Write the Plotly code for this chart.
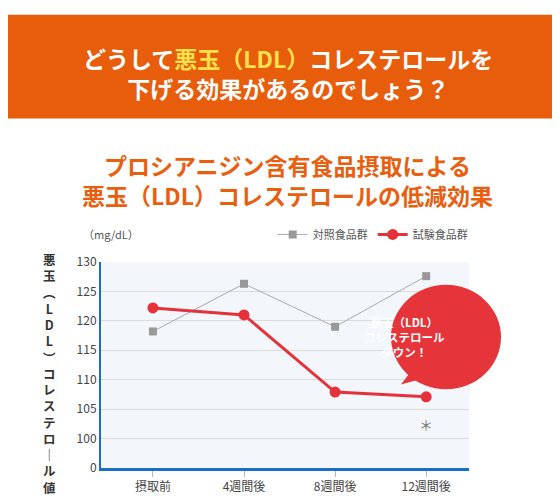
import plotly.graph_objects as go

categories = ["摂取前", "4週間後", "8週間後", "12週間後"]
control = [118.2, 126.3, 119.0, 127.6]
test = [122.2, 121.0, 107.9, 107.1]
tick_vals = [95, 100, 105, 110, 115, 120, 125, 130]
tick_text = ["0", "100", "105", "110", "115", "120", "125", "130"]

F = "Noto Sans CJK JP"
fig = go.Figure()
fig.add_trace(go.Scatter(x=[0,1,2,3], y=control, name="対照食品群", mode="lines+markers",
    line=dict(color="#aaaaaa", width=1), marker=dict(symbol="square", size=8, color="#999999")))
fig.add_trace(go.Scatter(x=[0,1,2,3], y=test, name="試験食品群", mode="lines+markers",
    line=dict(color="#e5323a", width=3), marker=dict(symbol="circle", size=11, color="#e5323a")))

fig.update_layout(
    width=560, height=498, margin=dict(l=93, r=99, t=254, b=27),
    paper_bgcolor="white", plot_bgcolor="#f3f7fc", font=dict(family=F, color="#444"),
    showlegend=True,
    legend=dict(orientation="h", x=1.01, xanchor="right", y=1.134, yanchor="middle",
                font=dict(size=11, color="#555"), bgcolor="rgba(0,0,0,0)"),
    xaxis=dict(tickvals=[0,1,2,3], ticktext=categories, range=[-0.57, 3.47],
               showgrid=False, zeroline=False, showline=True, linecolor="#1a6fc4", linewidth=3,
               ticks="outside", tickcolor="#9bbbe0", ticklen=6, tickfont=dict(size=12, color="#444")),
    yaxis=dict(range=[95, 130], tickvals=tick_vals, ticktext=tick_text, showgrid=True,
               gridcolor="#dcdcdc", showline=True, linecolor="#1a6fc4", linewidth=2,
               tickfont=dict(size=12, color="#444"), ticks="", zeroline=False),
    shapes=[
        dict(type="rect", xref="paper", yref="paper", x0=-0.26, x1=1.28, y0=1.696, y1=2.2,
             fillcolor="#e85d0b", line=dict(width=0), layer="below"),
        dict(type="path", xref="paper", yref="paper",
             path="M 0.815 0.405 L 0.861 0.512 L 0.889 0.442 Z", fillcolor="#e5353a", line=dict(width=0)),
        dict(type="circle", xref="paper", yref="paper", x0=0.788, x1=1.087, y0=0.382, y1=0.889,
             fillcolor="#e5353a", line=dict(width=0)),
    ],
    annotations=[
        dict(text="どうして<span style='color:#ffe14d'>悪玉（LDL）</span>コレステロールを<br>下げる効果があるのでしょう？",
             xref="paper", yref="paper", x=0.508, y=1.917, yanchor="middle", showarrow=False,
             font=dict(size=23, color="white", family=F, weight="bold")),
        dict(text="プロシアニジン含有食品摂取による<br>悪玉（LDL）コレステロールの低減効果",
             xref="paper", yref="paper", x=0.508, y=1.40, yanchor="middle", showarrow=False,
             font=dict(size=23, color="#e8600f", family=F, weight="bold")),
        dict(text="（mg/dL）", xref="paper", yref="paper", x=-0.054, y=1.134, yanchor="middle",
             showarrow=False, font=dict(size=11, color="#555")),
        dict(text="<br>".join(["悪","玉","︵","L","D","L","︶","コ","レ","ス","テ","ロ","｜","ル","値"]),
             xref="paper", yref="paper", x=-0.163, y=0.46, yanchor="middle", showarrow=False,
             font=dict(size=12.5, color="#333", weight="bold"), align="center"),
        dict(text="悪玉（LDL）<br>コレステロール<br>ダウン！", xref="paper", yref="paper",
             x=0.939, y=0.636, yanchor="middle", showarrow=False, align="center",
             font=dict(size=11.5, color="white", weight="bold")),
        dict(text="＊", x=3, y=102.5, showarrow=False, font=dict(size=14, color="#777")),
    ],
)
fig.write_html("out.html")
